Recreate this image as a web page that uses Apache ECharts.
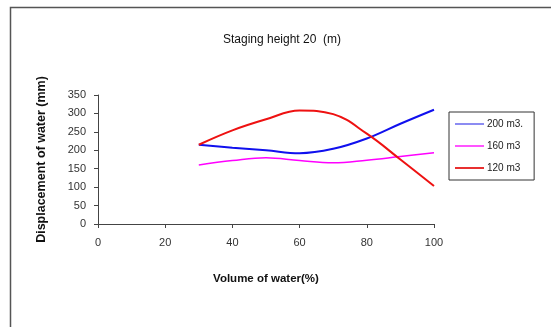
<!DOCTYPE html>
<html>
<head>
<meta charset="utf-8">
<script src="https://cdn.jsdelivr.net/npm/echarts@6/dist/echarts.min.js"></script>
<style>
  html, body { margin: 0; padding: 0; background: #fff; }
  #main { width: 551px; height: 327px; }
</style>
</head>
<body>
<div id="main"></div>
<script>
var volume = [30, 40, 50, 60, 70, 80, 90, 100];
var tank200 = [215, 207, 200, 192, 204, 232, 272, 310];
var tank160 = [160, 172, 180, 172, 166, 173, 183, 193];
var tank120 = [215, 254, 284, 308, 298, 245, 175, 103];
var xTicks = [0, 20, 40, 60, 80, 100];
var yTicks = [0, 50, 100, 150, 200, 250, 300, 350];

function pairs(ys) {
    return volume.map(function (v, i) { return [v, ys[i]]; });
}

var myChart = echarts.init(document.getElementById('main'));
var font = 'Liberation Sans, Arial, sans-serif';

myChart.setOption({
    animation: false,
    backgroundColor: '#fff',
    textStyle: { fontFamily: font },
    graphic: [{
        type: 'polyline',
        shape: { points: [[10.5, 327], [10.5, 7.5], [551, 7.5]] },
        style: { stroke: '#555', lineWidth: 1.5, fill: null }
    }],
    title: {
        text: 'Staging height 20  (m)',
        left: 277,
        textAlign: 'center',
        top: 29,
        textStyle: { fontSize: 12, fontWeight: 'normal', color: '#111', fontFamily: font }
    },
    legend: {
        orient: 'vertical',
        left: 449,
        top: 112,
        padding: [6, 11, 6, 6],
        itemWidth: 29,
        itemHeight: 2,
        itemGap: 10,
        icon: 'rect',
        borderColor: '#333',
        borderWidth: 1,
        textStyle: { fontSize: 10, lineHeight: 12, color: '#222', fontFamily: font, padding: [0, 0, 0, -2] },
        data: [
            { name: '200 m3.', itemStyle: { color: '#8c8cf2' } },
            { name: '160 m3', itemStyle: { color: '#ff55ff' } },
            { name: '120 m3', itemStyle: { color: '#e83030' } }
        ]
    },
    grid: { left: 98, right: 117, top: 95, bottom: 103 },
    xAxis: {
        type: 'value',
        min: 0,
        max: 100,
        interval: 20,
        name: 'Volume of water(%)',
        nameLocation: 'middle',
        nameGap: 49,
        nameTextStyle: { fontSize: 11.5, fontWeight: 'bold', color: '#111', fontFamily: font },
        axisLine: { lineStyle: { color: '#444', width: 1 } },
        axisTick: { show: true, length: 4, lineStyle: { color: '#444' } },
        axisLabel: {
            fontSize: 11, color: '#333', margin: 13, fontFamily: font,
            formatter: function (v) { return xTicks.indexOf(v) >= 0 ? String(v) : ''; }
        },
        splitLine: { show: false }
    },
    yAxis: {
        type: 'value',
        min: 0,
        max: 350,
        interval: 50,
        name: 'Displacement of water (mm)',
        nameLocation: 'middle',
        nameGap: 50,
        nameTextStyle: { fontSize: 12.5, fontWeight: 'bold', color: '#111', fontFamily: font },
        axisLine: { show: true, lineStyle: { color: '#444', width: 1 } },
        axisTick: { show: true, length: 4, lineStyle: { color: '#444' } },
        axisLabel: {
            fontSize: 11, color: '#333', margin: 12, fontFamily: font,
            formatter: function (v) { return yTicks.indexOf(v) >= 0 ? String(v) : ''; }
        },
        splitLine: { show: false }
    },
    series: [{
        name: '200 m3.',
        type: 'line',
        smooth: 0.4,
        symbol: 'none',
        data: pairs(tank200),
        lineStyle: { color: '#1010ee', width: 2 },
        itemStyle: { color: '#8c8cf2' }
    }, {
        name: '160 m3',
        type: 'line',
        smooth: 0.4,
        symbol: 'none',
        data: pairs(tank160),
        lineStyle: { color: '#ff00ff', width: 1.5 },
        itemStyle: { color: '#ff55ff' }
    }, {
        name: '120 m3',
        type: 'line',
        smooth: 0.4,
        symbol: 'none',
        data: pairs(tank120),
        lineStyle: { color: '#ee1111', width: 2 },
        itemStyle: { color: '#e83030' }
    }]
});
</script>
</body>
</html>
